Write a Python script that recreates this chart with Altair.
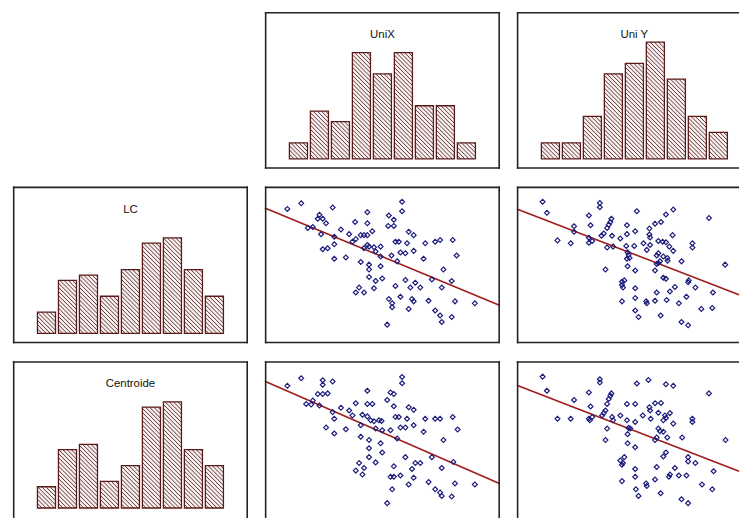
import math

import altair as alt
import pandas as pd

# ---------------------------------------------------------------------------
# Histogram counts (nine classes per variable)
# ---------------------------------------------------------------------------
unix_counts = [3, 9, 7, 20, 16, 20, 10, 10, 3]
uniy_counts = [3, 3, 8, 16, 18, 22, 15, 8, 5]
lc_counts = [4, 10, 11, 7, 12, 17, 18, 12, 7]
centroide_counts = [4, 11, 12, 5, 8, 19, 20, 11, 8]

# ---------------------------------------------------------------------------
# Scatter panels (arbitrary measurement units)
# ---------------------------------------------------------------------------
# LC against UniX
lc_unix_x = [430, 125, 430, 83, 220, 325, 180, 190, 175, 390, 405, 288, 200, 325, 388, 405,
             160, 145, 245, 340, 450, 465, 185, 270, 305, 315, 325, 225, 290, 280, 410, 420,
             500, 530, 545, 583, 445, 225, 190, 205, 325, 330, 345, 365, 315, 350, 465, 425,
             440, 595, 225, 260, 365, 398, 415, 495, 305, 330, 330, 365, 555, 330, 370, 440,
             520, 580, 350, 410, 455, 470, 485, 550, 345, 300, 290, 315, 425, 460, 465, 510,
             590, 650, 390, 400, 400, 450, 530, 545, 580, 550, 385]
lc_unix_y = [442, 437, 413, 420, 424, 410, 402, 390, 390, 400, 387, 380, 376, 376, 368, 368,
             365, 362, 357, 352, 350, 340, 343, 343, 340, 340, 340, 335, 328, 320, 320, 320,
             315, 320, 325, 325, 315, 312, 297, 300, 310, 305, 303, 305, 300, 290, 292, 287,
             285, 278, 268, 272, 275, 278, 260, 268, 258, 250, 235, 245, 235, 212, 208, 203,
             205, 200, 200, 185, 180, 195, 180, 180, 178, 180, 165, 165, 152, 145, 138, 140,
             138, 132, 145, 132, 120, 115, 110, 95, 90, 75, 67]

# LC against UniY
lc_uniy_x = [105, 118, 278, 278, 390, 500, 478, 608, 245, 313, 310, 305, 463, 445, 200, 250,
             300, 428, 360, 385, 290, 283, 315, 340, 360, 200, 150, 190, 245, 255, 245, 428,
             430, 498, 455, 468, 478, 410, 558, 558, 300, 318, 358, 382, 430, 420, 488, 500,
             362, 365, 368, 455, 450, 470, 482, 483, 460, 455, 450, 525, 360, 362, 657, 385,
             295, 445, 470, 478, 352, 345, 345, 348, 547, 545, 505, 490, 385, 567, 450, 620,
             540, 385, 345, 418, 420, 445, 480, 517, 585, 618, 385, 395, 462, 525, 545]
lc_uniy_y = [442, 408, 438, 425, 413, 418, 403, 392, 400, 390, 380, 372, 380, 375, 367, 370,
             362, 360, 370, 352, 345, 338, 338, 330, 343, 350, 324, 315, 332, 322, 317, 342,
             333, 340, 322, 320, 318, 315, 315, 302, 302, 305, 307, 307, 310, 295, 305, 292,
             288, 280, 270, 285, 278, 275, 270, 262, 260, 255, 252, 260, 268, 245, 250, 232,
             235, 232, 210, 207, 202, 198, 188, 180, 202, 196, 182, 168, 178, 180, 165, 165,
             152, 148, 138, 138, 132, 140, 142, 132, 115, 118, 110, 90, 95, 75, 65]

# Centroide against UniX
cen_unix_x = [430, 430, 125, 190, 220, 190, 83, 325, 395, 405, 175, 190, 205, 385, 160, 140,
              155, 180, 290, 325, 340, 405, 450, 465, 245, 270, 220, 310, 325, 280, 335, 345,
              360, 368, 410, 420, 445, 500, 530, 545, 583, 225, 200, 260, 225, 305, 350, 370,
              395, 425, 440, 465, 598, 495, 305, 330, 365, 415, 555, 330, 370, 440, 520, 585,
              330, 350, 300, 470, 485, 550, 315, 290, 310, 405, 460, 395, 405, 425, 465, 450,
              510, 590, 650, 400, 530, 545, 550, 580, 385]
cen_unix_y = [442, 423, 438, 432, 428, 418, 415, 400, 395, 390, 390, 390, 392, 372, 370, 360,
              358, 355, 362, 360, 360, 353, 350, 342, 348, 340, 335, 327, 322, 325, 310, 307,
              310, 308, 320, 320, 315, 315, 315, 315, 320, 315, 288, 283, 270, 295, 285, 280,
              280, 288, 288, 295, 282, 275, 260, 250, 240, 255, 250, 225, 212, 198, 198, 183,
              198, 182, 180, 180, 180, 165, 165, 157, 145, 170, 162, 138, 138, 142, 135, 115,
              122, 118, 115, 100, 100, 90, 80, 78, 58]

# Centroide against UniY
cen_uniy_x = [105, 278, 278, 390, 425, 478, 500, 608, 118, 245, 313, 310, 305, 200, 300, 360,
              385, 445, 463, 250, 295, 290, 285, 428, 430, 455, 408, 475, 490, 478, 150, 190,
              245, 255, 248, 315, 340, 318, 360, 385, 432, 470, 500, 558, 558, 365, 370, 455,
              460, 470, 450, 300, 362, 295, 385, 482, 527, 658, 445, 362, 470, 478, 352, 340,
              345, 348, 545, 545, 567, 505, 450, 385, 490, 487, 622, 445, 385, 345, 418, 420,
              517, 540, 587, 618, 387, 395, 462, 525, 545]
cen_uniy_y = [443, 435, 425, 422, 433, 420, 415, 392, 400, 395, 392, 385, 375, 372, 360, 360,
              360, 362, 363, 352, 340, 332, 325, 350, 340, 333, 325, 325, 332, 317, 315, 315,
              315, 320, 310, 320, 325, 310, 310, 305, 315, 310, 300, 315, 305, 287, 285, 285,
              277, 275, 258, 285, 268, 250, 228, 258, 258, 250, 250, 240, 200, 212, 198, 188,
              175, 180, 198, 185, 180, 165, 168, 162, 145, 138, 155, 130, 138, 125, 118, 110,
              142, 142, 115, 100, 100, 80, 88, 70, 58]

# Axis extents of the variables
UNIX_DOMAIN = [15, 726]
UNIY_DOMAIN = [27, 738]
LC_DOMAIN = [10, 488]
CENTROIDE_DOMAIN = [13, 490]

# ---------------------------------------------------------------------------
# Panel geometry and styling
# ---------------------------------------------------------------------------
PANEL_W, PANEL_H = 237, 158
EDGE_W = 224          # the right-hand column runs off the page edge
BIN_DOMAIN = [-1.1, 10.1]
COUNT_DOMAIN = [-1.87, 27.66]
KX = PANEL_W / (BIN_DOMAIN[1] - BIN_DOMAIN[0])
KY = PANEL_H / (COUNT_DOMAIN[1] - COUNT_DOMAIN[0])
BAR_INSET = 0.07
HATCH_STEP = 4.2

FRAME_COLOR = "#222222"
FRAME_W = 1.6
BAR_EDGE = "#5a1a1a"
HATCH_COLOR = "#452222"
BAR_FILL = "#fcefef"
POINT_COLOR = "#1c1c7c"
LINE_COLOR = "#a01c1c"
FONT = "Liberation Sans"


def cut(domain, width):
    """Portion of a full-panel domain that is visible in a panel of the given width."""
    lo, hi = domain
    return [lo, lo + (hi - lo) * width / PANEL_W]


def frame(width, height, right=True, bottom=True):
    one = pd.DataFrame({"k": [0]})
    half = FRAME_W / 2

    def edge(**pos):
        return alt.Chart(one).mark_rule(color=FRAME_COLOR, strokeWidth=FRAME_W).encode(
            **{k: alt.value(v) for k, v in pos.items()}
        )

    edges = [edge(x=0, x2=width, y=half), edge(x=half, y=0, y2=height)]
    if right:
        edges.append(edge(x=width - half, y=0, y2=height))
    if bottom:
        edges.append(edge(x=0, x2=width, y=height - half))
    return edges


def hatch_segments(counts):
    """Back-slash hatching inside each bar, phased across the whole panel."""
    rows = []
    w = (1 - 2 * BAR_INSET) * KX
    for i, c in enumerate(counts):
        x0 = i + BAR_INSET
        h = c * KY
        left_px = (x0 - BIN_DOMAIN[0]) * KX
        m = math.ceil(left_px / HATCH_STEP)
        while m * HATCH_STEP < left_px + w + h:
            s = m * HATCH_STEP - left_px
            if s > 0.5:
                u0 = max(0.0, s - h)
                u1 = min(w, s)
                rows.append({"hx": x0 + u0 / KX, "hy": (s - u0) / KY,
                             "hx2": x0 + u1 / KX, "hy2": (s - u1) / KY})
            m += 1
    return pd.DataFrame(rows)


def histogram(counts, label, width=PANEL_W, right=True, bottom=True):
    x_bins = alt.Scale(domain=cut(BIN_DOMAIN, width), nice=False, zero=False)
    y_counts = alt.Scale(domain=COUNT_DOMAIN, nice=False, zero=False)
    bars = pd.DataFrame({"cls": list(range(len(counts))), "count": counts})
    base = alt.Chart(bars).transform_calculate(
        start=f"datum.cls + {BAR_INSET}", end=f"datum.cls + 1 - {BAR_INSET}", zero="0"
    ).encode(
        x=alt.X("start:Q", scale=x_bins, axis=None),
        x2="end:Q",
        y=alt.Y("zero:Q", scale=y_counts, axis=None),
        y2="count:Q",
    )
    fill = base.mark_rect(fill=BAR_FILL)
    hatch = alt.Chart(hatch_segments(counts)).mark_rule(
        color=HATCH_COLOR, strokeWidth=0.9
    ).encode(
        x=alt.X("hx:Q", scale=x_bins, axis=None),
        y=alt.Y("hy:Q", scale=y_counts, axis=None),
        x2="hx2:Q",
        y2="hy2:Q",
    )
    edge = base.mark_rect(fillOpacity=0, stroke=BAR_EDGE, strokeWidth=1.3)
    title = alt.Chart(pd.DataFrame({"name": [label]})).mark_text(
        font=FONT, fontSize=11.5, color="#111111", baseline="middle"
    ).encode(text="name:N", x=alt.value(PANEL_W / 2), y=alt.value(23.5))
    return alt.layer(
        fill, hatch, edge, title, *frame(width, PANEL_H, right, bottom)
    ).properties(width=width, height=PANEL_H)


def scatter(xs, ys, xdom, ydom, width=PANEL_W, right=True, bottom=True):
    xdom = cut(xdom, width)
    df = pd.DataFrame({"x": xs, "y": ys})
    xs_ = alt.X("x:Q", scale=alt.Scale(domain=xdom, nice=False, zero=False), axis=None)
    ys_ = alt.Y("y:Q", scale=alt.Scale(domain=ydom, nice=False, zero=False), axis=None)
    fit = alt.Chart(df).transform_regression("x", "y", extent=xdom).mark_line(
        color=LINE_COLOR, strokeWidth=1.6
    ).encode(x=xs_, y=ys_)
    pts = alt.Chart(df).mark_point(
        shape="diamond", filled=False, size=24, color=POINT_COLOR, strokeWidth=1.2, opacity=1
    ).encode(x=xs_, y=ys_)
    return alt.layer(
        fit, pts, *frame(width, PANEL_H, right, bottom)
    ).properties(width=width, height=PANEL_H)


# Empty corner cell: an invisible mark kept well inside the cell
blank = alt.Chart(pd.DataFrame({"v": [0]})).mark_point(opacity=0, size=1).encode(
    x=alt.value(PANEL_W / 2), y=alt.value(PANEL_H / 2)
).properties(width=PANEL_W, height=PANEL_H)

panels = [
    blank,
    histogram(unix_counts, "UniX"),
    histogram(uniy_counts, "Uni Y", width=EDGE_W, right=False),
    histogram(lc_counts, "LC"),
    scatter(lc_unix_x, lc_unix_y, UNIX_DOMAIN, LC_DOMAIN),
    scatter(lc_uniy_x, lc_uniy_y, UNIY_DOMAIN, LC_DOMAIN, width=EDGE_W, right=False),
    histogram(centroide_counts, "Centroide", bottom=False),
    scatter(cen_unix_x, cen_unix_y, UNIX_DOMAIN, CENTROIDE_DOMAIN, bottom=False),
    scatter(cen_uniy_x, cen_uniy_y, UNIY_DOMAIN, CENTROIDE_DOMAIN,
            width=EDGE_W, right=False, bottom=False),
]

chart = alt.concat(
    *panels,
    columns=3,
    spacing=alt.RowColnumber(row=18, column=17),
    bounds="flush",
).resolve_scale(
    x="independent", y="independent"
).properties(
    padding={"left": 11, "top": 8, "right": 0, "bottom": 0},
    background="white",
).configure_view(
    stroke="transparent"
)

chart.save("out.html", embed_options={"renderer": "svg", "actions": False})
